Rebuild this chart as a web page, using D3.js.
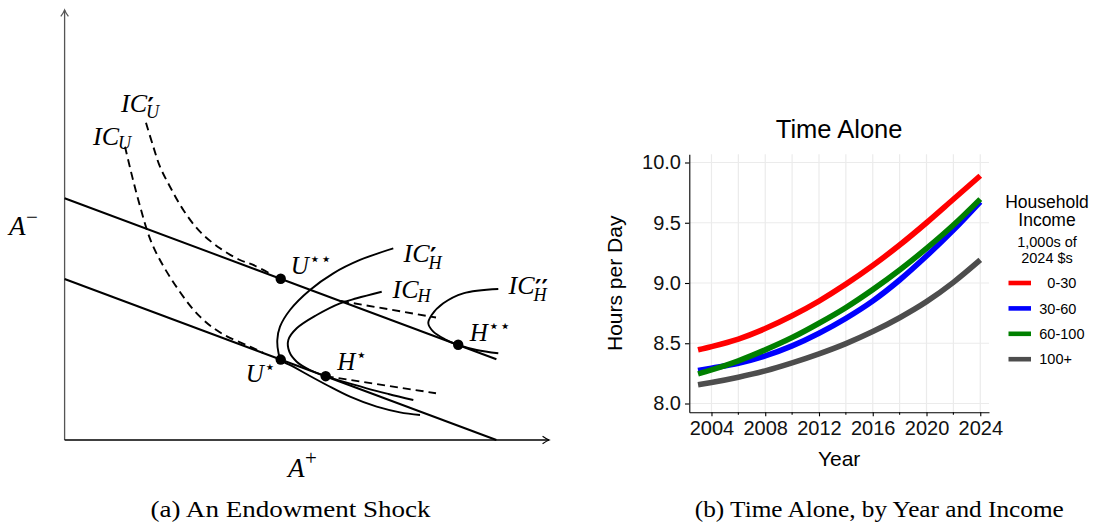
<!DOCTYPE html>
<html>
<head>
<meta charset="utf-8">
<script src="https://cdn.jsdelivr.net/npm/d3@7"></script>
<style>
  html, body { margin: 0; padding: 0; background: #fff; }
  svg { display: block; }
  .math { font-family: "Liberation Serif", "DejaVu Serif", serif; font-style: italic; fill: #000; }
  .roman { font-family: "Liberation Serif", "DejaVu Serif", serif; font-style: normal; fill: #000; }
  .sans { font-family: "Liberation Sans", Arial, sans-serif; fill: #000; }
  .star { font-family: "DejaVu Sans", sans-serif; font-style: normal; }
  .prime { font-family: "DejaVu Sans", sans-serif; font-style: normal; font-weight: bold; }
</style>
</head>
<body>
<svg id="fig" width="1093" height="523"></svg>
<script>
// ================= Panel (b): time alone by year and household income =================
const years = [2003, 2004, 2006, 2008, 2010, 2012, 2014, 2016, 2018, 2020, 2022, 2024];
const income0to30   = [8.445, 8.472, 8.535, 8.622, 8.728, 8.850, 8.990, 9.145, 9.315, 9.500, 9.695, 9.890];
const income30to60  = [8.273, 8.293, 8.334, 8.395, 8.478, 8.583, 8.707, 8.851, 9.025, 9.224, 9.439, 9.674];
const income60to100 = [8.246, 8.279, 8.354, 8.445, 8.547, 8.666, 8.796, 8.945, 9.108, 9.287, 9.481, 9.696];
const income100plus = [8.155, 8.174, 8.218, 8.271, 8.337, 8.412, 8.497, 8.597, 8.712, 8.845, 9.005, 9.191];
const incomeGroups  = ["  0-30", "30-60", "60-100", "100+"];
const groupColors   = ["#ff0000", "#0000ff", "#008000", "#4d4d4d"];
const yearTicks     = [2004, 2008, 2012, 2016, 2020, 2024];
const yearMinorTicks = [2006, 2010, 2014, 2018, 2022];
const hourTicks     = [8.0, 8.5, 9.0, 9.5, 10.0];

// ================= Panel (a): endowment shock diagram (diagram units) =================
const budgetIntercepts = [3.73, 5.6];      // lower and upper budget lines
const budgetSlope = -0.373;
const budgetSpan = [0, 10];
const icU      = [[1.399, 6.793], [1.707, 5.558], [2.054, 4.477], [2.640, 3.474], [3.136, 2.856],
                  [3.631, 2.471], [4.294, 2.161], [4.60, 2.02]];
const icUPrime = [[1.885, 7.348], [2.054, 6.793], [2.209, 6.329], [2.441, 5.866], [2.749, 5.327],
                  [3.136, 4.824], [3.599, 4.440], [4.062, 4.169], [4.370, 4.053], [4.80, 3.83]];
const icH      = [[7.344, 3.434], [6.765, 3.282], [6.378, 3.166], [5.838, 2.895], [5.375, 2.587],
                  [5.181, 2.316], [5.204, 2.045], [5.375, 1.813], [5.683, 1.621], [6.047, 1.478],
                  [6.996, 1.197], [7.50, 1.065], [8.076, 0.926]];
const icHPrime = [[7.612, 4.440], [6.841, 4.169], [6.223, 3.860], [5.683, 3.474], [5.220, 3.011],
                  [4.988, 2.624], [4.926, 2.316], [4.949, 2.045], [5.005, 1.863], [5.296, 1.698],
                  [5.683, 1.482], [6.070, 1.274], [6.610, 1.003], [7.228, 0.771], [7.767, 0.641],
                  [8.231, 0.579]];
const icHDouble = [[10.044, 3.497], [9.233, 3.397], [8.770, 3.166], [8.501, 2.895], [8.423, 2.703],
                   [8.539, 2.508], [8.810, 2.332], [9.118, 2.200], [9.544, 2.084], [10.044, 2.008]];
const hBudgetUpper = [[6.401, 3.219], [8.601, 2.837]];
const hBudgetLower = [[6.047, 1.478], [8.601, 1.083]];
const optima = [
  { name: "U", stars: "⋆⋆", p: [5.005, 3.735] },
  { name: "U", stars: "⋆",  p: [5.005, 1.863] },
  { name: "H", stars: "⋆",  p: [6.047, 1.478] },
  { name: "H", stars: "⋆⋆", p: [9.115, 2.205] }
];

const svg = d3.select("#fig");
const defs = svg.append("defs");
function arrowMarker(id, color) {
  defs.append("marker")
    .attr("id", id)
    .attr("viewBox", "-8 -5 10 10")
    .attr("refX", 0).attr("refY", 0)
    .attr("markerWidth", 10).attr("markerHeight", 10)
    .attr("markerUnits", "userSpaceOnUse")
    .attr("orient", "auto")
    .append("path")
    .attr("d", "M-6.5,-3.8 Q-2.4,-0.9 0,0 Q-2.4,0.9 -6.5,3.8")
    .attr("fill", "none").attr("stroke", color).attr("stroke-width", 1.2);
}
arrowMarker("tipGray", "#555");
arrowMarker("tipBlack", "#000");

// ---------------- Panel (a) ----------------
const gA = svg.append("g");
const xA = d3.scaleLinear().domain([0, 10]).range([64.6, 496.4]);
const yA = d3.scaleLinear().domain([0, 10]).range([440, 8.2]);
const curveA = d3.line().x(d => xA(d[0])).y(d => yA(d[1])).curve(d3.curveCatmullRom.alpha(0.5));
const straightA = d3.line().x(d => xA(d[0])).y(d => yA(d[1]));

// axes with arrow tips
gA.append("line")
  .attr("x1", xA(0)).attr("y1", yA(0)).attr("x2", xA(0)).attr("y2", yA(9.96))
  .attr("stroke", "#555").attr("stroke-width", 1.3).attr("marker-end", "url(#tipGray)");
gA.append("line")
  .attr("x1", xA(0)).attr("y1", yA(0)).attr("x2", xA(11.22)).attr("y2", yA(0))
  .attr("stroke", "#000").attr("stroke-width", 1.3).attr("marker-end", "url(#tipBlack)");

// budget lines
gA.selectAll("path.budget").data(budgetIntercepts).join("path")
  .attr("class", "budget")
  .attr("d", b => straightA(budgetSpan.map(x => [x, b + budgetSlope * x])))
  .attr("fill", "none").attr("stroke", "#000").attr("stroke-width", 2);

// dashed curves and segments
[icU, icUPrime].forEach(c => gA.append("path").attr("d", curveA(c))
  .attr("fill", "none").attr("stroke", "#000").attr("stroke-width", 1.9).attr("stroke-dasharray", "8,5"));
[hBudgetUpper, hBudgetLower].forEach(c => gA.append("path").attr("d", straightA(c))
  .attr("fill", "none").attr("stroke", "#000").attr("stroke-width", 1.9).attr("stroke-dasharray", "8,5"));

// solid indifference curves
[icH, icHPrime, icHDouble].forEach(c => gA.append("path").attr("d", curveA(c))
  .attr("fill", "none").attr("stroke", "#000").attr("stroke-width", 1.9));

// optimum points
gA.selectAll("circle.opt").data(optima).join("circle")
  .attr("class", "opt")
  .attr("cx", d => xA(d.p[0])).attr("cy", d => yA(d.p[1])).attr("r", 5.2).attr("fill", "#000");

// math labels: base, optional prime superscript, optional subscript
function mathLabel(x, y, base, sup, sub, size) {
  const g = gA.append("g");
  const t = g.append("text").attr("class", "math").attr("x", x).attr("y", y)
    .attr("font-size", size).text(base);
  const w = t.node().getComputedTextLength();
  if (sup) {
    g.append("text").attr("class", "prime").attr("font-size", size * 0.95)
      .attr("x", x + w + 0.5).attr("y", y + 3).text(sup);
  }
  if (sub) {
    g.append("text").attr("class", "math").attr("font-size", size * 0.7)
      .attr("x", x + w - 1).attr("y", y + (sup ? size * 0.26 : size * 0.17)).text(sub);
  }
}
mathLabel(121, 111.5, "IC", "′", "U", 26);
mathLabel(93, 145, "IC", null, "U", 26);
mathLabel(403.5, 262, "IC", "′", "H", 26);
mathLabel(392.5, 297.5, "IC", null, "H", 26);
mathLabel(508.5, 294, "IC", "′′", "H", 26);

// point labels with stars
const starOffsets = [[10, -5], [-35, 22.5], [11.5, -6], [11.5, -4]];
optima.forEach((d, i) => {
  const t = gA.append("text").attr("class", "math").attr("font-size", 25)
    .attr("x", xA(d.p[0]) + starOffsets[i][0]).attr("y", yA(d.p[1]) + starOffsets[i][1]);
  t.append("tspan").text(d.name);
  t.append("tspan").attr("class", "star").attr("font-size", 18).attr("dy", -9).attr("dx", 0.5).text(d.stars);
});

// axis labels
const aMinus = gA.append("text").attr("class", "math").attr("font-size", 27).attr("x", 9).attr("y", 235);
aMinus.append("tspan").text("A");
aMinus.append("tspan").attr("class", "roman").attr("font-size", 21).attr("dy", -11).attr("dx", 0.5).text("−");
const aPlus = gA.append("text").attr("class", "math").attr("font-size", 27).attr("x", 288).attr("y", 477);
aPlus.append("tspan").text("A");
aPlus.append("tspan").attr("class", "roman").attr("font-size", 21).attr("dy", -12).attr("dx", 0.5).text("+");

// caption
svg.append("text").attr("class", "roman").attr("font-size", 24)
  .attr("x", 290.6).attr("y", 516.5).attr("text-anchor", "middle")
  .attr("textLength", 280).attr("lengthAdjust", "spacingAndGlyphs")
  .text("(a) An Endowment Shock");

// ---------------- Panel (b) ----------------
const gB = svg.append("g");
const xB = d3.scaleLinear().domain([2002.35, 2024.65]).range([689.3, 989]);
const yB = d3.scaleLinear().domain([7.927, 10.068]).range([412.3, 154.3]);
const [px0, px1] = xB.range();
const [py0, py1] = yB.range();

// grid
const gridX = [...yearTicks, ...yearMinorTicks];
gB.selectAll("line.gx").data(gridX).join("line").attr("class", "gx")
  .attr("x1", d => xB(d)).attr("x2", d => xB(d)).attr("y1", py1).attr("y2", py0)
  .attr("stroke", "#ebebeb").attr("stroke-width", 1.2);
gB.selectAll("line.gy").data(hourTicks).join("line").attr("class", "gy")
  .attr("x1", px0).attr("x2", px1).attr("y1", d => yB(d)).attr("y2", d => yB(d))
  .attr("stroke", "#ebebeb").attr("stroke-width", 1.2);

// series lines
const series = [income0to30, income30to60, income60to100, income100plus];
const lineB = d3.line().x((d, i) => xB(years[i])).y(d => yB(d)).curve(d3.curveMonotoneX);
[3, 1, 2, 0].forEach(k => {
  gB.append("path").attr("d", lineB(series[k]))
    .attr("fill", "none").attr("stroke", groupColors[k]).attr("stroke-width", 5.6)
    .attr("stroke-linecap", "butt").attr("stroke-linejoin", "round");
});

// axes
const yAxis = d3.axisLeft(yB).tickValues(hourTicks).tickFormat(d3.format(".1f"))
  .tickSize(4.3).tickSizeOuter(0).tickPadding(4);
const yAx = gB.append("g").attr("transform", `translate(${px0},0)`).call(yAxis);
yAx.select(".domain").attr("stroke", "#000").attr("stroke-width", 1.1);
yAx.selectAll(".tick line").attr("stroke", "#000").attr("stroke-width", 1.1);
yAx.selectAll(".tick text").attr("font-size", 20).attr("fill", "#111")
  .attr("font-family", "Liberation Sans, Arial, sans-serif");

const xAxis = d3.axisBottom(xB).tickValues(yearTicks).tickFormat(d3.format("d"))
  .tickSize(4).tickSizeOuter(0).tickPadding(5);
const xAx = gB.append("g").attr("transform", `translate(0,${py0})`).call(xAxis);
xAx.select(".domain").attr("stroke", "#000").attr("stroke-width", 1.1);
xAx.selectAll(".tick line").attr("stroke", "#000").attr("stroke-width", 1.1);
xAx.selectAll(".tick text").attr("font-size", 20).attr("fill", "#111")
  .attr("font-family", "Liberation Sans, Arial, sans-serif");
gB.selectAll("line.minor").data(yearMinorTicks).join("line").attr("class", "minor")
  .attr("x1", d => xB(d)).attr("x2", d => xB(d)).attr("y1", py0).attr("y2", py0 + 2.5)
  .attr("stroke", "#000").attr("stroke-width", 1.1);

// titles
gB.append("text").attr("class", "sans").attr("font-size", 25.5).attr("text-anchor", "middle")
  .attr("x", (px0 + px1) / 2).attr("y", 137.5).text("Time Alone");
gB.append("text").attr("class", "sans").attr("font-size", 21).attr("text-anchor", "middle")
  .attr("x", (px0 + px1) / 2).attr("y", 465.5).text("Year");
gB.append("text").attr("class", "sans").attr("font-size", 21).attr("text-anchor", "middle")
  .attr("transform", `translate(621.5,${(py0 + py1) / 2}) rotate(-90)`).text("Hours per Day");

// legend
const gL = gB.append("g");
const legendCx = 1047;
[["Household", 208, 17.5], ["Income", 226, 17.5], ["1,000s of", 246.5, 14.5], ["2024 $s", 262.5, 14.5]]
  .forEach(([txt, y, fs]) => gL.append("text").attr("class", "sans").attr("font-size", fs)
    .attr("text-anchor", "middle").attr("x", legendCx).attr("y", y).text(txt));
const keys = gL.selectAll("g.key").data(incomeGroups).join("g").attr("class", "key")
  .attr("transform", (d, i) => `translate(1008.5,${283 + i * 25.4})`);
keys.append("line").attr("x1", 0).attr("x2", 22.5).attr("y1", 0).attr("y2", 0)
  .attr("stroke", (d, i) => groupColors[i]).attr("stroke-width", 4.6);
keys.append("text").attr("class", "sans").attr("font-size", 14.5).attr("x", 30.8).attr("y", 5.2)
  .style("white-space", "pre").text(d => d);

// caption
svg.append("text").attr("class", "roman").attr("font-size", 24)
  .attr("x", 879.3).attr("y", 516.5).attr("text-anchor", "middle")
  .attr("textLength", 369).attr("lengthAdjust", "spacingAndGlyphs")
  .text("(b) Time Alone, by Year and Income");
</script>
</body>
</html>
